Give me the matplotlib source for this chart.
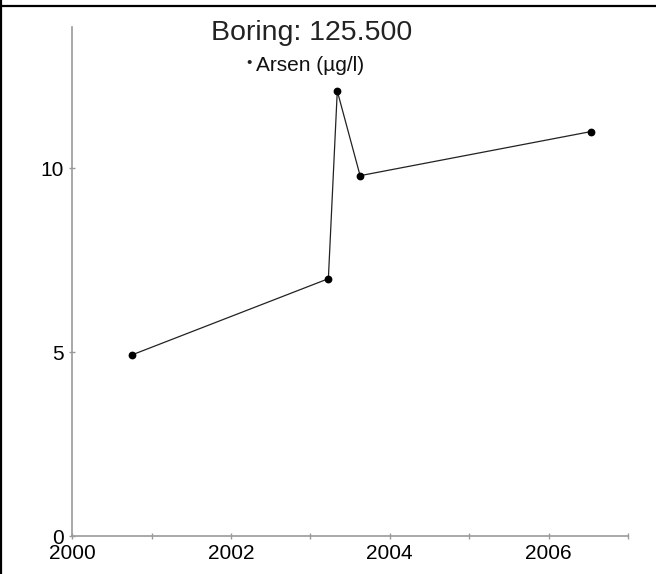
import matplotlib
matplotlib.use("Agg")
import matplotlib.pyplot as plt
import matplotlib.dates as mdates
from matplotlib.lines import Line2D
import pandas as pd

plt.rcParams["font.family"] = ["Liberation Sans", "DejaVu Sans"]

dates = ["2000-10-03", "2003-03-25", "2003-05-05", "2003-08-18", "2006-07-16"]
arsen = [4.93, 7.0, 12.1, 9.8, 11.0]
title = "Boring: 125.500"
series_label = "Arsen (µg/l)"
y_ticks = [0, 5, 10]

W, H = 656, 574
fig = plt.figure(figsize=(W / 100, H / 100), dpi=100)

# axes box in pixels: x 72..628, y 27..536
ax = fig.add_axes([72 / W, 1 - 536.3 / H, (628 - 72) / W, (536.3 - 27) / H])

x = pd.to_datetime(dates)
ax.plot(x, arsen, color="#222222", lw=0.9, marker="o", ms=4.6,
        mfc="black", mec="black", zorder=3)

ax.set_xlim(pd.Timestamp("2000-01-01"), pd.Timestamp("2007-01-01"))
ax.set_ylim(0, 13.84)

ax.xaxis.set_major_locator(mdates.YearLocator(2))
ax.xaxis.set_minor_locator(mdates.YearLocator(1))
ax.xaxis.set_major_formatter(mdates.DateFormatter("%Y"))
ax.set_yticks(y_ticks)

grey = "#9a9a9a"
for side in ["top", "right"]:
    ax.spines[side].set_visible(False)
for side in ["left", "bottom"]:
    ax.spines[side].set_color(grey)
    ax.spines[side].set_linewidth(1.2)

ax.tick_params(axis="both", which="both", direction="inout", length=5,
               width=1.0, color=grey, labelsize=15, labelcolor="black")
ax.tick_params(axis="x", which="major", pad=3)
ax.tick_params(axis="y", which="major", pad=3.5)

# title and small legend
fig.text(312 / W, 1 - 39.5 / H, title, ha="center", va="baseline",
         fontsize=20.5, color="#222222")
fig.text(249 / W, 1 - 63 / H, "•", ha="center", va="center",
         fontsize=11, color="#222222")
fig.text(256 / W, 1 - 71 / H, series_label, ha="left", va="baseline",
         fontsize=15, color="#111111")

# table-cell border round the picture
fig.add_artist(Line2D([1 / W, 1 / W], [0, 1], transform=fig.transFigure,
                      color="black", lw=1.6))
fig.add_artist(Line2D([0, 1], [1 - 6 / H, 1 - 6 / H], transform=fig.transFigure,
                      color="black", lw=1.6))

fig.savefig("out.png", dpi=100)
